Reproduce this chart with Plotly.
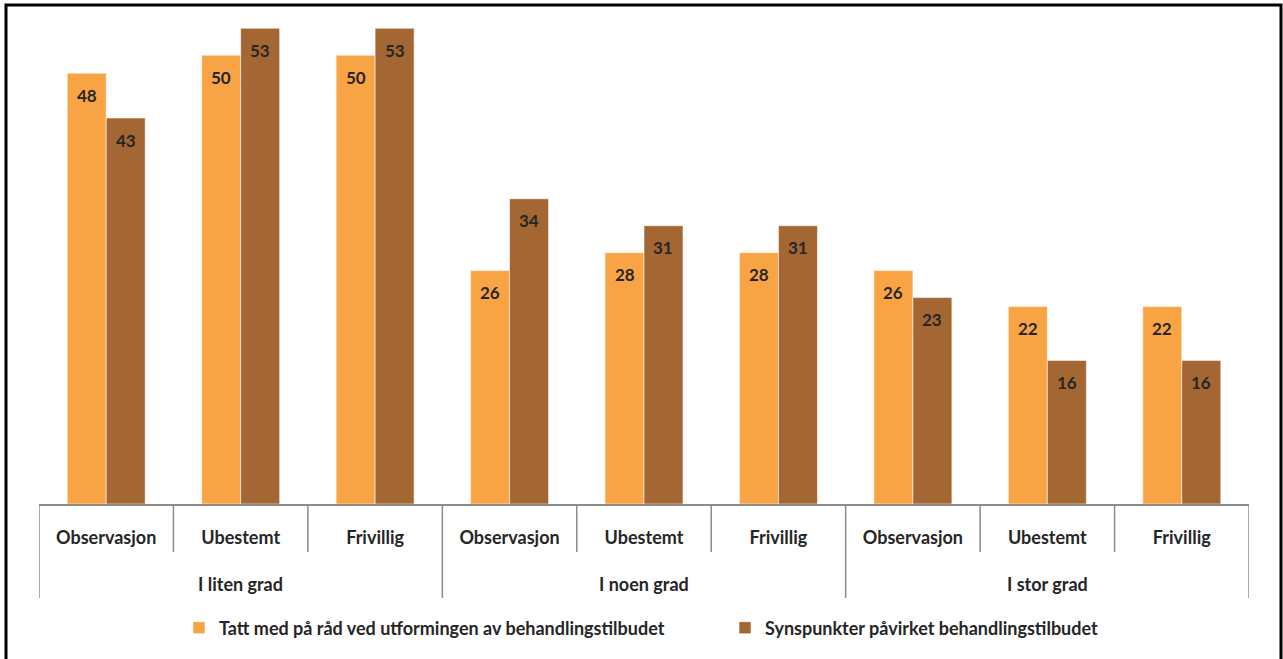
import plotly.graph_objects as go

# Categories (three response groups, three case types in each)
groups = ["I liten grad", "I noen grad", "I stor grad"]
subcats = ["Observasjon", "Ubestemt", "Frivillig"]

series_names = [
    "Tatt med på råd ved utformingen av behandlingstilbudet",
    "Synspunkter påvirket behandlingstilbudet",
]
tatt_med = [48, 50, 50, 26, 28, 28, 26, 22, 22]
synspunkter = [43, 53, 53, 34, 31, 31, 23, 16, 16]

colors = ["#F8A444", "#A46633"]
label_color = "#262626"
font_family = "Lato, 'Open Sans', sans-serif"

W, H = 1283, 659
ML, MR, MT, MB = 39, 34, 13, 155
plot_w = W - ML - MR
plot_h = H - MT - MB

BARGAP = 0.42
BAR_W = (1 - BARGAP) / 2


def py(px_from_top):
    """Convert a pixel row to paper y coordinate."""
    return (H - MB - px_from_top) / plot_h


def px(px_from_left):
    """Convert a pixel column to paper x coordinate."""
    return (px_from_left - ML) / plot_w


xs = list(range(len(groups) * len(subcats)))
tick_text = subcats * len(groups)

fig = go.Figure()
for name, vals, col in zip(series_names, [tatt_med, synspunkter], colors):
    fig.add_trace(go.Bar(
        x=xs, y=vals, name=f"<b>{name}</b>",
        marker=dict(color=col, line=dict(color="rgba(255,255,255,0.55)", width=1)),
        hoverinfo="skip",
    ))

annotations = []
# Value labels just inside the top of each bar
offsets = [-BAR_W / 2, BAR_W / 2]
for vals, off in zip([tatt_med, synspunkter], offsets):
    for i, v in enumerate(vals):
        annotations.append(dict(
            x=i + off, y=v, xref="x", yref="y", text=f"<b>{v}</b>",
            showarrow=False, yshift=-22,
            font=dict(family=font_family, size=17, color=label_color),
        ))

# Group labels under the case-type labels
for g, name in enumerate(groups):
    annotations.append(dict(
        x=g * 3 + 1, y=py(584), xref="x", yref="paper", text=f"<b>{name}</b>",
        showarrow=False, yanchor="middle",
        font=dict(family=font_family, size=18, color=label_color),
    ))

shapes = []
axis_grey = "#8C8C8C"
# Separators between categories; longer ones mark group boundaries
for k in range(len(xs) + 1):
    long_line = k % 3 == 0
    shapes.append(dict(
        type="line", xref="x", yref="paper",
        x0=k - 0.5, x1=k - 0.5, y0=0, y1=py(598 if long_line else 552),
        line=dict(color=axis_grey, width=1.5),
    ))

# Outer frame of the chart
shapes.append(dict(
    type="rect", xref="paper", yref="paper",
    x0=px(6), x1=px(1281), y0=py(700), y1=py(5),
    line=dict(color="black", width=3), fillcolor="rgba(0,0,0,0)", layer="above",
))

fig.update_layout(
    width=W, height=H,
    margin=dict(l=ML, r=MR, t=MT, b=MB, autoexpand=False),
    paper_bgcolor="white", plot_bgcolor="white",
    barmode="group", bargap=BARGAP, bargroupgap=0,
    font=dict(family=font_family, color=label_color),
    showlegend=True,
    legend=dict(
        orientation="h", x=px(179), xanchor="left", y=py(628), yanchor="middle",
        font=dict(family=font_family, size=18, color=label_color),
        entrywidth=501, entrywidthmode="pixels",
        itemclick=False, traceorder="normal",
    ),
    xaxis=dict(
        range=[-0.5, len(xs) - 0.5], tickvals=xs,
        ticktext=[f"<b>{t}</b>" for t in tick_text],
        tickfont=dict(family=font_family, size=18, color=label_color),
        ticks="", ticklabelstandoff=17,
        showline=True, linecolor=axis_grey, linewidth=1.5,
        showgrid=False, zeroline=False, fixedrange=True,
    ),
    yaxis=dict(
        range=[0, 54.7], visible=False, showgrid=False, zeroline=False, fixedrange=True,
    ),
    annotations=annotations,
    shapes=shapes,
)

fig.write_html("out.html")
